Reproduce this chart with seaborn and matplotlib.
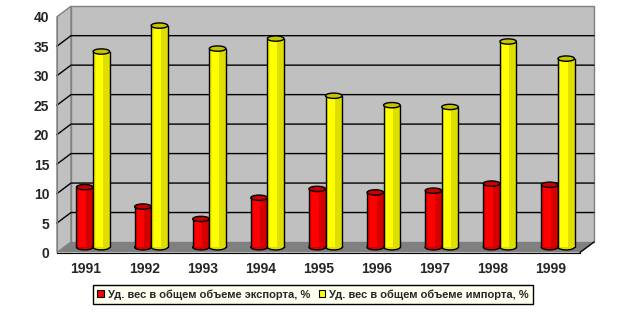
import numpy as np
import pandas as pd
import matplotlib
matplotlib.use("Agg")
import matplotlib.pyplot as plt
import seaborn as sns
from matplotlib.patches import Polygon, Ellipse, Rectangle, Patch
from matplotlib.transforms import Affine2D

# ---- data ----
years = ["1991", "1992", "1993", "1994", "1995", "1996", "1997", "1998", "1999"]
export_share = [10.2, 6.9, 4.8, 8.4, 9.9, 9.3, 9.6, 10.8, 10.6]
import_share = [33.2, 37.6, 33.7, 35.4, 25.7, 24.1, 23.8, 34.9, 32.0]
series_names = ["Уд. вес в общем объеме экспорта, %",
                "Уд. вес в общем объеме импорта, %"]
y_ticks = [0, 5, 10, 15, 20, 25, 30, 35, 40]

base_colors = ["#FF0000", "#FFFF00"]
edge_dark = ["#EC0000", "#F0F000"]
shade_colors = ["#D40000", "#DEDE00"]
top_colors = ["#C80000", "#C4C400"]

sns.set_style("white")
plt.rcParams['font.family'] = ['Liberation Sans', 'DejaVu Sans']

W, H = 630, 315
fig = plt.figure(figsize=(W / 100, H / 100), dpi=100)
L, R = 57, 580
B0, T40 = 252.5, 16.7
ax = fig.add_axes([L / W, (H - B0) / H, (R - L) / W, (B0 - T40) / H])
ax.patch.set_alpha(0)

df = pd.DataFrame({
    "year": years * 2,
    "value": export_share + import_share,
    "series": [series_names[0]] * len(years) + [series_names[1]] * len(years),
})
sns.barplot(data=df, x="year", y="value", hue="series", hue_order=series_names,
            palette=base_colors, saturation=1, width=0.57, edgecolor="none",
            linewidth=0, ax=ax, legend=False, zorder=3)
bars = list(ax.patches)

ax.set_xlim(-0.5, 8.5)
ax.set_ylim(0, 40)

# depth offsets (data units)
DX = 14 * 9 / (R - L)
DY = 10.5 * 40 / (B0 - T40)

# walls and floor
kw = dict(clip_on=False, lw=1)
ax.add_patch(Polygon([(-0.5 + DX, DY), (8.5 + DX, DY), (8.5 + DX, 40 + DY), (-0.5 + DX, 40 + DY)],
                     fc="#C0C0C0", ec="#808080", zorder=0.5, **kw))
ax.add_patch(Polygon([(-0.5, 0), (-0.5 + DX, DY), (-0.5 + DX, 40 + DY), (-0.5, 40)],
                     fc="#C0C0C0", ec="#808080", zorder=0.5, **kw))
ax.add_patch(Polygon([(-0.5, 0), (8.5, 0), (8.5 + DX, DY), (-0.5 + DX, DY)],
                     fc="#808080", ec="none", zorder=0.8, **kw))
for yv in y_ticks[1:-1]:
    ax.plot([-0.5, -0.5 + DX, 8.5 + DX], [yv, yv + DY, yv + DY], color="black",
            lw=1, zorder=0.9, clip_on=False)
ax.plot([8.5, 8.5 + DX], [0, DY], color="black", lw=1, zorder=2.6, clip_on=False)

# cylinders
tmid = Affine2D().translate(DX / 2, DY / 2) + ax.transData
eh = 0.9
n = len(years)
for i, p in enumerate(bars):
    k = 0 if i < n else 1
    z = 3 + k
    x0, w, h = p.get_x(), p.get_width(), p.get_height()
    cx = x0 + w / 2
    p.set_transform(tmid)
    p.set_zorder(z)
    ax.add_patch(Ellipse((cx, 0), w, eh, fc=shade_colors[k], ec="black", lw=1,
                         transform=tmid, zorder=z - 0.01, clip_on=False))
    ax.add_patch(Rectangle((x0, 0), 0.15 * w, h, fc=edge_dark[k], ec="none",
                           transform=tmid, zorder=z + 0.01, clip_on=False))
    ax.add_patch(Rectangle((x0 + 0.58 * w, 0), 0.42 * w, h, fc=shade_colors[k], ec="none",
                           transform=tmid, zorder=z + 0.01, clip_on=False))
    ax.plot([x0, x0], [0, h], color="black", lw=1, transform=tmid, zorder=z + 0.02,
            clip_on=False)
    ax.plot([x0 + w, x0 + w], [0, h], color="black", lw=1, transform=tmid,
            zorder=z + 0.02, clip_on=False)
    ax.add_patch(Ellipse((cx, h), w, eh, fc=top_colors[k], ec="black", lw=1,
                         transform=tmid, zorder=z + 0.03, clip_on=False))

# axes styling
for s in ["top", "right"]:
    ax.spines[s].set_visible(False)
ax.spines["left"].set_color("#808080")
ax.spines["left"].set_zorder(2.5)
ax.spines["bottom"].set_color("black")
ax.spines["bottom"].set_zorder(2.6)
ax.set_xlabel("")
ax.set_ylabel("")
ax.set_yticks(y_ticks)
ax.set_yticklabels([str(v) for v in y_ticks], fontsize=10, fontweight="bold")
ax.tick_params(axis="y", length=4, width=1, color="black", pad=1.5)
ax.set_xticks(range(len(years)))
ax.set_xticklabels(years, fontsize=10, fontweight="bold")
ax.set_xticks(np.arange(-0.5, len(years), 1.0), minor=True)
ax.tick_params(axis="x", which="major", length=0, pad=7)
ax.tick_params(axis="x", which="minor", length=3.5, width=1, color="black")
ax.grid(False)

handles = [Patch(fc=base_colors[i], ec="black", lw=0.8) for i in range(2)]
leg = ax.legend(handles, series_names, loc="center", bbox_to_anchor=(313 / W, 20.5 / H),
                bbox_transform=fig.transFigure, ncol=2, frameon=True, fancybox=False,
                edgecolor="black", facecolor="#FFFFF0", framealpha=1,
                prop=dict(size=8, weight="bold"), handlelength=0.6, handleheight=0.6,
                handletextpad=0.35, columnspacing=0.8, borderpad=0.4, borderaxespad=0)
leg.get_frame().set_linewidth(1)

fig.savefig("out.png", dpi=100)
